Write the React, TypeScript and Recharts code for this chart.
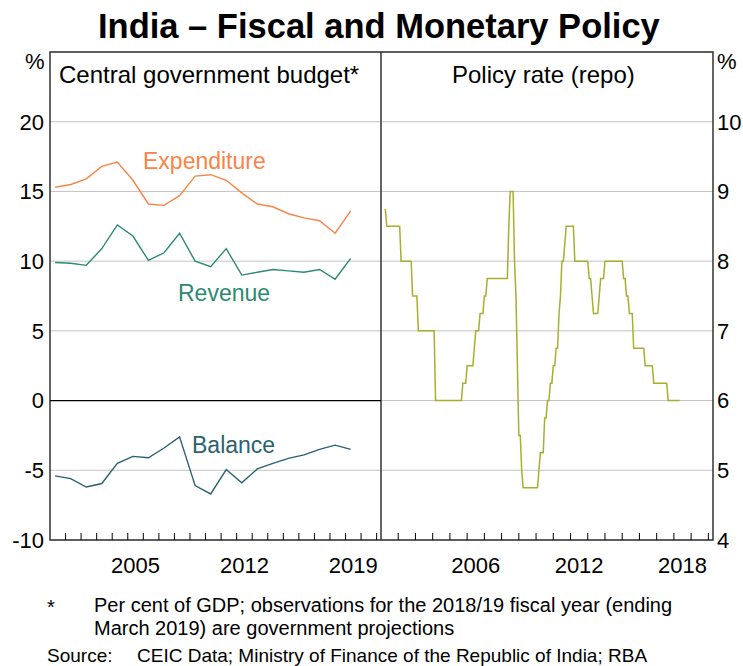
import React from "react";
import { LineChart, Line, XAxis, YAxis, CartesianGrid, ReferenceLine, ReferenceArea } from "recharts";

// Central government budget, per cent of GDP (fiscal year ending March)
const fiscalYears = [
  2000, 2001, 2002, 2003, 2004, 2005, 2006, 2007, 2008, 2009,
  2010, 2011, 2012, 2013, 2014, 2015, 2016, 2017, 2018, 2019,
];
const expenditure = [
  15.3, 15.5, 15.9, 16.8, 17.1, 15.8, 14.1, 14.0, 14.7, 16.1,
  16.2, 15.8, 14.9, 14.1, 13.9, 13.4, 13.1, 12.9, 12.0, 13.6,
];
const revenue = [
  9.9, 9.85, 9.7, 10.9, 12.6, 11.8, 10.05, 10.6, 12.0, 10.0,
  9.6, 10.9, 9.0, 9.2, 9.4, 9.3, 9.2, 9.4, 8.7, 10.2,
];
const balance = [
  -5.4, -5.6, -6.2, -5.95, -4.5, -4.0, -4.1, -3.4, -2.6, -6.1,
  -6.7, -4.95, -5.9, -4.9, -4.5, -4.15, -3.9, -3.5, -3.2, -3.5,
];

// Policy (repo) rate, %, monthly turning points
const rateMonths = [
  "2001-04", "2001-05", "2002-02", "2002-03", "2002-10", "2002-11", "2003-02", "2003-03",
  "2004-02", "2004-03", "2005-09", "2005-10", "2005-12", "2006-01", "2006-05", "2006-06",
  "2006-07", "2006-09", "2006-10", "2006-12", "2007-01", "2007-02", "2007-03", "2008-05",
  "2008-06", "2008-07", "2008-09", "2008-10", "2008-11", "2008-12", "2009-01", "2009-02",
  "2009-03", "2009-04", "2010-02", "2010-03", "2010-04", "2010-06", "2010-07", "2010-08",
  "2010-09", "2010-10", "2010-11", "2010-12", "2011-01", "2011-02", "2011-03", "2011-04",
  "2011-05", "2011-06", "2011-07", "2011-08", "2011-09", "2011-10", "2012-03", "2012-04",
  "2013-01", "2013-02", "2013-03", "2013-04", "2013-05", "2013-08", "2013-09", "2013-10",
  "2013-12", "2014-01", "2015-01", "2015-02", "2015-03", "2015-04", "2015-05", "2015-06",
  "2015-08", "2015-09", "2016-04", "2016-05", "2016-10", "2016-11", "2017-08", "2017-09",
  "2018-05",
];
const rateValues = [
  8.75, 8.5, 8.5, 8.0, 8.0, 7.5, 7.5, 7.0,
  7.0, 6.0, 6.0, 6.25, 6.25, 6.5, 6.5, 6.75,
  7.0, 7.0, 7.25, 7.25, 7.5, 7.5, 7.75, 7.75,
  8.5, 9.0, 9.0, 8.0, 7.5, 6.5, 5.5, 5.5,
  5.0, 4.75, 4.75, 5.0, 5.25, 5.25, 5.75, 5.75,
  6.0, 6.0, 6.25, 6.25, 6.5, 6.5, 6.75, 6.75,
  7.25, 7.5, 8.0, 8.0, 8.25, 8.5, 8.5, 8.0,
  8.0, 7.75, 7.75, 7.5, 7.25, 7.25, 7.5, 7.75,
  7.75, 8.0, 8.0, 7.75, 7.75, 7.5, 7.5, 7.25,
  7.25, 6.75, 6.75, 6.5, 6.5, 6.25, 6.25, 6.0,
  6.0,
];

// axes
const budgetTicks = [-10, -5, 0, 5, 10, 15, 20];
const rateTicks = [4, 5, 6, 7, 8, 9, 10];
const budgetYearTicks = [
  2001, 2002, 2003, 2004, 2005, 2006, 2007, 2008, 2009, 2010, 2011,
  2012, 2013, 2014, 2015, 2016, 2017, 2018, 2019, 2020, 2021,
];
const rateYearTicks = [
  2002, 2003, 2004, 2005, 2006, 2007, 2008, 2009, 2010, 2011,
  2012, 2013, 2014, 2015, 2016, 2017, 2018, 2019, 2020,
];
const budgetLabelYears = [2005, 2012, 2019];
const rateLabelYears = [2006, 2012, 2018];

const BUDGET_X = [2000, 2021.28];
const RATE_X = [2001, 2020.27];
const FY_POS = 0.33; // where each fiscal year observation sits within the calendar year

const fiscalData = fiscalYears.map((y, i) => ({
  x: y + FY_POS,
  expenditure: expenditure[i],
  revenue: revenue[i],
  balance: balance[i],
}));

const toYear = (m: string) => {
  const [y, mo] = m.split("-").map(Number);
  return y + (mo - 1) / 12;
};
const rateData = rateMonths.map((m, i) => ({ x: toYear(m), rate: rateValues[i] }));

const FONT = "'Liberation Sans', Arial, Helvetica, sans-serif";
const tickStyle = { fontSize: 22, fill: "#000", fontFamily: FONT };
const GRID = "#c3c3c3";
const FRAME = "#333";

// panel widths (plot area) used to centre year labels inside their year
const LEFT_PLOT_W = 331;
const RIGHT_PLOT_W = 332;

// year mark pointing up into the plot, with the label centred on the year
const YearTick = (props: any) => {
  const { x, y, payload, labels, halfYear } = props;
  const yr = payload.value;
  return (
    <g>
      <line x1={x} x2={x} y1={y} y2={y - 7} stroke="#000" strokeWidth={1} />
      {labels.includes(yr) && (
        <text x={x + halfYear} y={y + 17} dy="0.71em" textAnchor="middle" fontSize={22} fill="#000" fontFamily={FONT}>
          {yr}
        </text>
      )}
    </g>
  );
};

const txt = (left: number, top: number, size: number, color = "#000", extra = {}) => ({
  position: "absolute" as const,
  left,
  top,
  fontSize: size,
  lineHeight: 1,
  color,
  whiteSpace: "nowrap" as const,
  ...extra,
});

export default function App() {
  const leftHalf = LEFT_PLOT_W / (BUDGET_X[1] - BUDGET_X[0]) / 2;
  const rightHalf = RIGHT_PLOT_W / (RATE_X[1] - RATE_X[0]) / 2;
  return (
    <div style={{ position: "absolute", left: 0, top: 0, width: 743, height: 666, background: "#fff", fontFamily: FONT }}>
      <div style={txt(98, 9, 34.5, "#000", { fontWeight: "bold" })}>India – Fiscal and Monetary Policy</div>

      {/* left panel */}
      <div style={{ position: "absolute", left: 0, top: 0 }}>
        <LineChart width={381} height={580} data={fiscalData} margin={{ top: 52, right: 0, bottom: 0, left: 0 }}>
          <CartesianGrid vertical={false} stroke={GRID} />
          <XAxis
            type="number"
            dataKey="x"
            domain={BUDGET_X}
            allowDataOverflow
            ticks={budgetYearTicks}
            interval={0}
            tick={<YearTick labels={budgetLabelYears} halfYear={leftHalf} />}
            tickLine={false}
            tickSize={0}
            tickMargin={0}
            axisLine={false}
            height={40}
          />
          <YAxis
            domain={[-10, 25]}
            ticks={budgetTicks}
            interval={0}
            tick={tickStyle}
            tickLine={false}
            axisLine={false}
            tickSize={0}
            tickMargin={6}
            width={50}
          />
          <ReferenceLine y={0} stroke="#000" strokeWidth={1.3} />
          <ReferenceArea
            x1={BUDGET_X[0]}
            x2={BUDGET_X[1]}
            y1={-10}
            y2={25}
            fill="none"
            fillOpacity={0}
            stroke={FRAME}
            strokeWidth={1.5}
          />
          <Line type="linear" dataKey="expenditure" stroke="#f98448" strokeWidth={1.4} dot={false} isAnimationActive={false} />
          <Line type="linear" dataKey="revenue" stroke="#2b8a73" strokeWidth={1.4} dot={false} isAnimationActive={false} />
          <Line type="linear" dataKey="balance" stroke="#2a6270" strokeWidth={1.4} dot={false} isAnimationActive={false} />
        </LineChart>
      </div>

      {/* right panel */}
      <div style={{ position: "absolute", left: 381, top: 0 }}>
        <LineChart width={362} height={580} data={rateData} margin={{ top: 52, right: 0, bottom: 0, left: 0 }}>
          <CartesianGrid vertical={false} stroke={GRID} />
          <XAxis
            type="number"
            dataKey="x"
            domain={RATE_X}
            allowDataOverflow
            ticks={rateYearTicks}
            interval={0}
            tick={<YearTick labels={rateLabelYears} halfYear={rightHalf} />}
            tickLine={false}
            tickSize={0}
            tickMargin={0}
            axisLine={false}
            height={40}
          />
          <YAxis
            orientation="right"
            domain={[4, 11]}
            ticks={rateTicks}
            interval={0}
            tick={tickStyle}
            tickLine={false}
            axisLine={false}
            tickSize={0}
            tickMargin={4}
            width={30}
          />
          <ReferenceArea
            x1={RATE_X[0]}
            x2={RATE_X[1]}
            y1={4}
            y2={11}
            fill="none"
            fillOpacity={0}
            stroke={FRAME}
            strokeWidth={1.5}
          />
          <Line type="linear" dataKey="rate" stroke="#a9ae2e" strokeWidth={1.5} dot={false} isAnimationActive={false} />
        </LineChart>
      </div>

      {/* panel and series labels */}
      <div style={txt(25, 51, 22)}>%</div>
      <div style={txt(717, 51, 22)}>%</div>
      <div style={txt(59, 63, 24)}>Central government budget*</div>
      <div style={txt(452, 63, 24)}>Policy rate (repo)</div>
      <div style={txt(143, 150, 23, "#f98448")}>Expenditure</div>
      <div style={txt(178, 282, 23, "#2b8a73")}>Revenue</div>
      <div style={txt(192, 434, 23, "#2a6270")}>Balance</div>

      {/* notes */}
      <div style={txt(47, 597, 20)}>*</div>
      <div style={txt(94, 595, 20)}>Per cent of GDP; observations for the 2018/19 fiscal year (ending</div>
      <div style={txt(94, 618, 20)}>March 2019) are government projections</div>
      <div style={txt(47, 646, 19)}>Source:</div>
      <div style={txt(137, 646, 19)}>CEIC Data; Ministry of Finance of the Republic of India; RBA</div>
    </div>
  );
}
